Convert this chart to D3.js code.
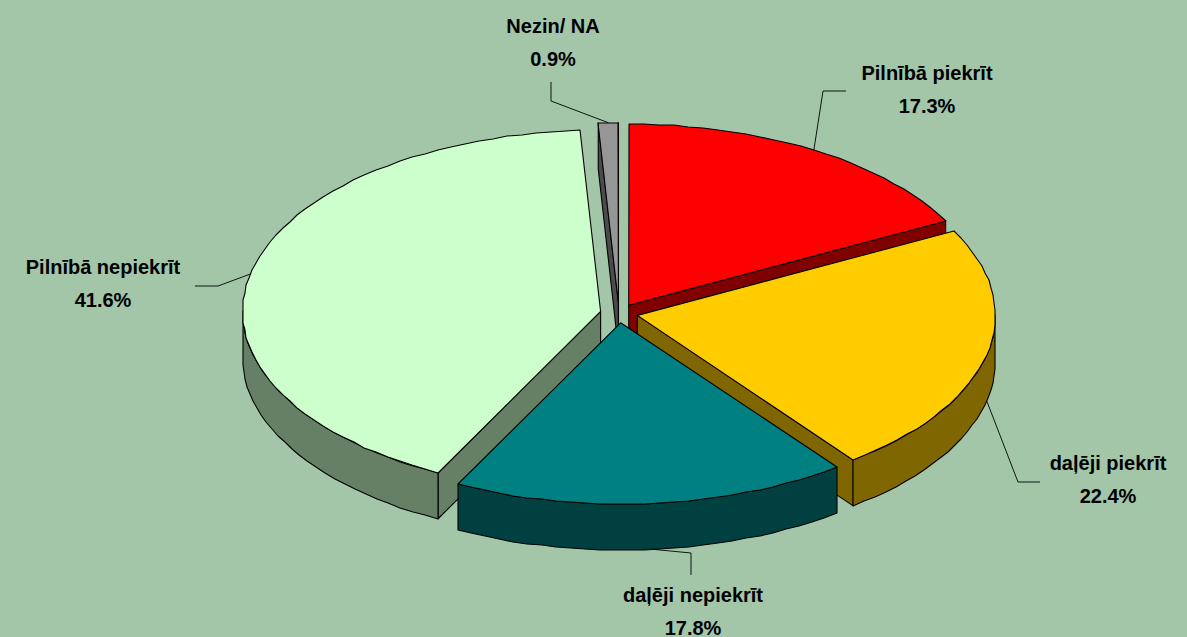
<!DOCTYPE html>
<html><head><meta charset="utf-8">
<script src="https://cdn.jsdelivr.net/npm/d3@7"></script>
<style>html,body{margin:0;padding:0;background:#A3C6A9}svg{display:block}
text{font-family:"Liberation Sans",Arial,sans-serif;font-weight:bold;font-size:20px;fill:#000}</style>
</head><body><svg id="c" width="1187" height="637"></svg>
<script>
const categories=["Pilnībā piekrīt","daļēji piekrīt","daļēji nepiekrīt","Pilnībā nepiekrīt","Nezin/ NA"];
const values=[17.3,22.4,17.8,41.6,0.9];
const topColors=["#FF0000","#FFCC00","#008080","#CCFFCC","#969696"];
const sideColors=["#800000","#806600","#004040","#668066","#4B4B4B"];
const paintOrder=[0,4,3,1,2];
// label centre, first-line baseline, leader elbow and leader end
const labelCentre=[[927,80],[1108,470],[693,602],[103,274],[553,33]];
const leaderElbow=[[823,91],[1018,482],[691,553],[218,286],[551,101]];
const leaderEnd=[[846,91],[1040,482],[691,575],[195,286],[551,82]];

const cx=619,cy=313.3,rx=358,squash=0.506,explode=18.8,depth=46;
const svg=d3.select("#c");
const toRad=d3.scaleLinear().domain([0,100]).range([0,2*Math.PI]);
const pie=d3.pie().sort(null).value(d=>d).startAngle(0).endAngle(toRad(d3.sum(values)));
const arcs=pie(values);
const line=d3.line().curve(d3.curveLinear);
const rnd=p=>[Math.round(p[0]),Math.round(p[1])];

function geom(a){
  const mid=(a.startAngle+a.endAngle)/2;
  const ax=cx+explode*Math.sin(mid), ay=cy-explode*squash*Math.cos(mid);
  const pt=(t,dy=0)=>[ax+rx*Math.sin(t),ay-rx*squash*Math.cos(t)+dy];
  return {mid,ax,ay,pt};
}
function rimPts(t0,t1,dy){
  const g=[],n=Math.max(2,Math.ceil((t1-t0)/(2.4*Math.PI/180)));
  return n;
}
function arcPts(a,t0,t1,dy=0){
  const gm=geom(a),n=Math.max(2,Math.ceil((t1-t0)/(2.4*Math.PI/180)));
  return d3.range(n+1).map(i=>rnd(gm.pt(t0+(t1-t0)*i/n,dy)));
}
const stroke={stroke:"#000","stroke-width":1.1,"stroke-linejoin":"round"};
function poly(pts,fill){
  const p=svg.append("path").attr("d",line(pts)+"Z").attr("fill",fill);
  Object.entries(stroke).forEach(([k,v])=>p.attr(k,v));
}
paintOrder.forEach(i=>{
  const a=arcs[i],g=geom(a),apex=[g.ax,g.ay];
  const s=a.startAngle,e=a.endAngle;
  if(Math.sin(s)<0){const q=g.pt(s);
    poly([apex,q,[q[0],q[1]+depth],[apex[0],apex[1]+depth]],sideColors[i]);}
  if(Math.sin(e)>0){const q=g.pt(e);
    poly([apex,q,[q[0],q[1]+depth],[apex[0],apex[1]+depth]],sideColors[i]);}
  const lo=Math.max(s,Math.PI/2),hi=Math.min(e,1.5*Math.PI);
  if(hi>lo){
    poly(arcPts(a,lo,hi).concat(arcPts(a,lo,hi,depth).reverse()),sideColors[i]);
  }
  poly([apex].concat(arcPts(a,s,e)),topColors[i]);
});
arcs.forEach((a,i)=>{
  const g=geom(a),drop=Math.cos(g.mid)<0?depth:0,st=g.pt(g.mid,drop);
  svg.append("path").attr("d",line([st,leaderElbow[i],leaderEnd[i]]))
    .attr("fill","none").attr("stroke","#000").attr("stroke-width",0.9);
  const t=svg.append("text").attr("text-anchor","middle");
  t.append("tspan").attr("x",labelCentre[i][0]).attr("y",labelCentre[i][1]).text(categories[i]);
  t.append("tspan").attr("x",labelCentre[i][0]).attr("y",labelCentre[i][1]+33).text(values[i].toFixed(1)+"%");
});
</script></body></html>
